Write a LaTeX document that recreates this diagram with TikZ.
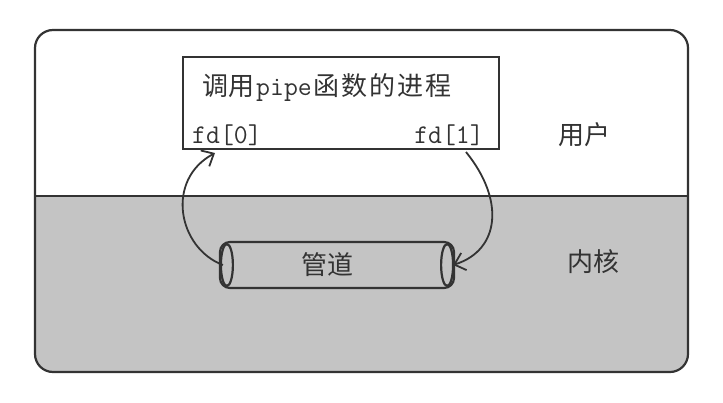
\documentclass[tikz,border=0pt]{standalone}
\usepackage{fontspec}
\newfontfamily\cjk{Noto Sans CJK SC}
\usetikzlibrary{arrows.meta}
\definecolor{kern}{HTML}{C4C4C4}
\definecolor{ink}{HTML}{333333}
\tikzset{
  sketch/.style={draw=ink, line width=2.2pt},
  arr/.style={draw=ink, line width=1.8pt, -{Straight Barb[length=10pt,width=18pt,line width=1.8pt]}},
  lbl/.style={font=\cjk\fontsize{26}{28}\selectfont, text=ink, inner sep=0pt},
  code/.style={font=\ttfamily\fontsize{27}{29}\selectfont, text=ink, inner sep=0pt}
}
\begin{document}
\begin{tikzpicture}[x=1pt,y=-1pt]
\useasboundingbox (0,0) rectangle (723,402);
% outer frame with kernel region
\begin{scope}
  \clip[rounded corners=18pt] (35,30) rectangle (688,372);
  \fill[white] (35,30) rectangle (688,196);
  \fill[kern] (35,196) rectangle (688,372);
\end{scope}
\draw[sketch, rounded corners=18pt] (35,30) rectangle (688,372);
\draw[sketch] (35,196) -- (688,196);
% process box
\node[sketch, fill=white, minimum width=316pt, minimum height=92pt, inner sep=0pt] (proc) at (341,103) {};
\node[lbl, anchor=west] (title) at (202,88) {调用\hspace{2pt}{\ttfamily\fontsize{27}{29}\selectfont pipe}\hspace{2pt}函\hspace{2pt}数\hspace{2pt}的\hspace{2pt}进\hspace{2pt}程};
\node[code, anchor=west] (fd0) at (192,135) {fd[0]};
\node[code, anchor=east] (fd1) at (484,135) {fd[1]};
% labels
\node[lbl] (user) at (584,135) {用户};
\node[lbl] (kernel) at (593,262) {内核};
% pipe
\node[sketch, fill=kern, rounded corners=10pt, minimum width=234pt, minimum height=46pt, inner sep=0pt] (pipe) at (337,265) {};
\draw[sketch, fill=kern] ([xshift=8pt]pipe.west) ellipse [x radius=6pt, y radius=21pt];
\draw[sketch, fill=kern] ([xshift=-8pt]pipe.east) ellipse [x radius=6pt, y radius=21pt];
\node[lbl] (pipetext) at (327,265) {管道};
% arrows
\coordinate (a0s) at ([xshift=4pt]pipe.west);
\coordinate (a0e) at (215,153);
\coordinate (a1s) at (466,152);
\coordinate (a1e) at ([xshift=-2pt]pipe.east);
\draw[arr] (a0s) .. controls (178,248) and (165,180) .. (a0e);
\draw[arr] (a1s) .. controls (505,200) and (500,250) .. (a1e);
\end{tikzpicture}
\end{document}
